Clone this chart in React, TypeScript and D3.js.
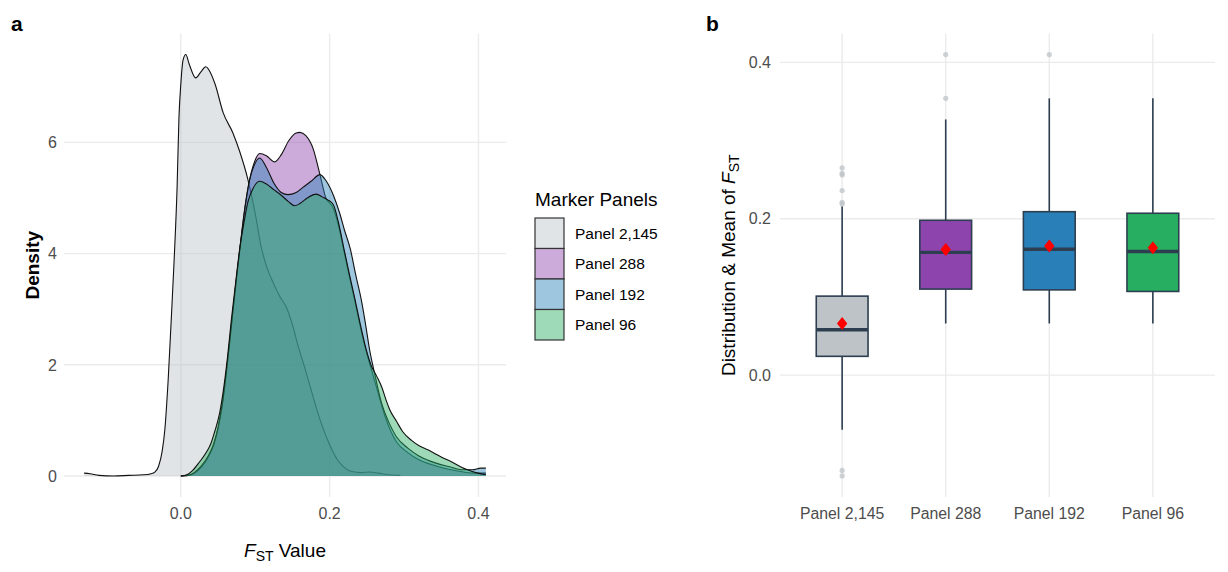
import { area, curveMonotoneX, extent, line, scaleLinear, scalePoint } from "d3";

// Marker panels, in drawing order
const panels = ["Panel 2,145", "Panel 288", "Panel 192", "Panel 96"];
const panelColors = ["#bdc3c7", "#8e44ad", "#2980b9", "#27ae60"];

// Kernel density of F_ST per panel: [F_ST, density]
const densityPanel2145: [number, number][] = [
  [-0.13, 0.05], [-0.122, 0.04], [-0.11, 0.01], [-0.09, 0.0], [-0.07, 0.01], [-0.05, 0.02],
  [-0.04, 0.04], [-0.035, 0.07], [-0.03, 0.17], [-0.025, 0.45], [-0.0215, 0.83], [-0.017, 1.73],
  [-0.013, 2.78], [-0.009, 3.88], [-0.005, 5.2], [-0.0025, 6.45], [0.0, 7.05], [0.003, 7.48],
  [0.0067, 7.58], [0.011, 7.42], [0.02, 7.16], [0.027, 7.27], [0.0336, 7.36], [0.04, 7.25],
  [0.046, 7.05], [0.057, 6.53], [0.07, 6.17], [0.079, 5.84], [0.09, 5.34], [0.1, 4.72],
  [0.108, 4.12], [0.115, 3.78], [0.125, 3.45], [0.133, 3.23], [0.142, 3.03], [0.15, 2.72],
  [0.158, 2.32], [0.166, 1.97], [0.174, 1.6], [0.182, 1.23], [0.19, 0.9], [0.2, 0.56],
  [0.21, 0.3], [0.22, 0.15], [0.23, 0.08], [0.242, 0.06], [0.254, 0.07], [0.265, 0.05],
  [0.28, 0.02], [0.295, 0.01]
];
const densityPanel288: [number, number][] = [
  [0.0, 0.0], [0.01, 0.01], [0.018, 0.05], [0.027, 0.15], [0.036, 0.32], [0.044, 0.55],
  [0.05, 0.85], [0.056, 1.3], [0.062, 1.95], [0.068, 2.7], [0.074, 3.45], [0.08, 4.15],
  [0.086, 4.8], [0.092, 5.3], [0.099, 5.65], [0.106, 5.8], [0.115, 5.76], [0.126, 5.65],
  [0.135, 5.78], [0.145, 6.03], [0.155, 6.17], [0.16, 6.18], [0.168, 6.12], [0.178, 5.88],
  [0.187, 5.42], [0.195, 5.0], [0.204, 4.84], [0.212, 4.5], [0.22, 4.0], [0.227, 3.56],
  [0.234, 3.14], [0.241, 2.7], [0.249, 2.25], [0.256, 1.92], [0.265, 1.5], [0.275, 1.05],
  [0.2895, 0.62], [0.305, 0.42], [0.32, 0.29], [0.343, 0.18], [0.36, 0.12], [0.38, 0.07],
  [0.395, 0.05], [0.41, 0.05]
];
const densityPanel192: [number, number][] = [
  [0.0, 0.0], [0.01, 0.01], [0.018, 0.06], [0.027, 0.17], [0.036, 0.34], [0.044, 0.57],
  [0.05, 0.87], [0.056, 1.32], [0.062, 1.97], [0.068, 2.72], [0.074, 3.47], [0.08, 4.17],
  [0.086, 4.82], [0.092, 5.3], [0.099, 5.6], [0.106, 5.72], [0.115, 5.55], [0.125, 5.27],
  [0.135, 5.1], [0.144, 5.06], [0.155, 5.1], [0.165, 5.2], [0.175, 5.3], [0.187, 5.42],
  [0.1956, 5.3], [0.205, 5.05], [0.2134, 4.73], [0.22, 4.42], [0.228, 4.07], [0.235, 3.62],
  [0.2425, 3.17], [0.248, 2.75], [0.2537, 2.27], [0.26, 1.87], [0.27, 1.3], [0.28, 0.95],
  [0.2895, 0.71], [0.305, 0.5], [0.32, 0.36], [0.343, 0.23], [0.36, 0.17], [0.379, 0.11],
  [0.392, 0.11], [0.403, 0.14], [0.41, 0.14]
];
const densityPanel96: [number, number][] = [
  [0.0, 0.0], [0.008, 0.02], [0.016, 0.1], [0.025, 0.25], [0.033, 0.4], [0.04, 0.57],
  [0.046, 0.82], [0.052, 1.12], [0.058, 1.62], [0.063, 2.17], [0.068, 2.82], [0.074, 3.52],
  [0.079, 4.07], [0.085, 4.57], [0.09, 4.92], [0.097, 5.17], [0.106, 5.3], [0.115, 5.25],
  [0.125, 5.15], [0.135, 5.05], [0.145, 4.93], [0.153, 4.86], [0.16, 4.9], [0.17, 5.0],
  [0.182, 5.07], [0.19, 5.02], [0.197, 4.97], [0.205, 4.88], [0.212, 4.55], [0.219, 4.1],
  [0.227, 3.6], [0.234, 3.18], [0.241, 2.74], [0.249, 2.28], [0.256, 1.98], [0.263, 1.8],
  [0.27, 1.6], [0.276, 1.36], [0.2805, 1.2], [0.29, 0.98], [0.298, 0.8], [0.31, 0.64],
  [0.3208, 0.54], [0.332, 0.47], [0.343, 0.39], [0.3655, 0.24], [0.3835, 0.12], [0.399, 0.05],
  [0.41, 0.02]
];
const densities = [densityPanel2145, densityPanel288, densityPanel192, densityPanel96];

const densityXTicks = [0.0, 0.2, 0.4];
const densityYTicks = [0, 2, 4, 6];

// Boxplot summaries of F_ST per panel
const boxQ1 = [0.024, 0.11, 0.109, 0.107];
const boxMedian = [0.058, 0.157, 0.161, 0.158];
const boxQ3 = [0.101, 0.198, 0.209, 0.207];
const whiskerLow = [-0.07, 0.066, 0.066, 0.066];
const whiskerHigh = [0.216, 0.327, 0.354, 0.354];
const fstMeans = [0.066, 0.1605, 0.165, 0.163];
const boxOutliers = [
  [0.265, 0.258, 0.256, 0.236, 0.221, 0.219, -0.122, -0.129],
  [0.41, 0.354],
  [0.41],
  []
];
const boxYTicks = [0.0, 0.2, 0.4];

const FONT = "'Liberation Sans', Arial, Helvetica, sans-serif";
const GRID = "#ebebeb";
const TICK = "#4d4d4d";
const OUTLINE = "#2c3e50";

function expanded(lo: number, hi: number): [number, number] {
  const pad = (hi - lo) * 0.05;
  return [lo - pad, hi + pad];
}

export default function App() {
  const width = 1228;
  const height = 572;
  const top = 33.5;
  const bottom = 497;

  // panel a: densities
  const allX = densities.flatMap((s) => s.map((p) => p[0]));
  const allY = densities.flatMap((s) => s.map((p) => p[1]));
  const [x0, x1] = extent(allX) as [number, number];
  const x = scaleLinear().domain(expanded(x0, x1)).range([64, 506]);
  const y = scaleLinear().domain(expanded(0, Math.max(...allY))).range([bottom, top]);

  const densityArea = area<[number, number]>()
    .x((d) => x(d[0]))
    .y0(y(0))
    .y1((d) => y(d[1]))
    .curve(curveMonotoneX);
  const densityLine = line<[number, number]>()
    .x((d) => x(d[0]))
    .y((d) => y(d[1]))
    .curve(curveMonotoneX);

  // panel b: boxplots
  const allFst = [...whiskerLow, ...whiskerHigh, ...boxOutliers.flat()];
  const by = scaleLinear()
    .domain(expanded(Math.min(...allFst), Math.max(...allFst)))
    .range([bottom, top]);
  const bx = scalePoint<string>().domain(panels).range([780, 1215]).padding(0.6);
  const boxW = bx.step() * 0.5;

  const legendX = 535;
  const legendY = 218;
  const keyW = 29;
  const keyH = 30.5;

  return (
    <svg
      width={width}
      height={height}
      style={{ position: "absolute", left: 0, top: 0, background: "#fff" }}
      fontFamily={FONT}
    >
      {/* ---------- panel a ---------- */}
      <text x={11} y={31} fontSize={21} fontWeight="bold">a</text>

      {densityYTicks.map((t) => (
        <line key={`gy${t}`} x1={x.range()[0]} x2={x.range()[1]} y1={y(t)} y2={y(t)} stroke={GRID} strokeWidth={1.4} />
      ))}
      {densityXTicks.map((t) => (
        <line key={`gx${t}`} x1={x(t)} x2={x(t)} y1={top} y2={bottom} stroke={GRID} strokeWidth={1.4} />
      ))}

      {densities.map((s, i) => (
        <g key={panels[i]}>
          <path d={densityArea(s) ?? undefined} fill={panelColors[i]} fillOpacity={0.45} />
          <path d={densityLine(s) ?? undefined} fill="none" stroke="#111" strokeWidth={1.1} />
        </g>
      ))}

      {densityYTicks.map((t) => (
        <text key={`ly${t}`} x={57} y={y(t)} dy="0.36em" textAnchor="end" fontSize={16} fill={TICK}>
          {t}
        </text>
      ))}
      {densityXTicks.map((t) => (
        <text key={`lx${t}`} x={x(t)} y={519} textAnchor="middle" fontSize={16} fill={TICK}>
          {t.toFixed(1)}
        </text>
      ))}

      <text x={285} y={557} textAnchor="middle" fontSize={19}>
        <tspan fontStyle="italic">F</tspan>
        <tspan fontSize={14} dy={4}>ST</tspan>
        <tspan dy={-4}> Value</tspan>
      </text>
      <text
        transform={`translate(39,${(top + bottom) / 2}) rotate(-90)`}
        textAnchor="middle"
        fontSize={19}
        fontWeight="bold"
      >
        Density
      </text>

      {/* legend */}
      <text x={legendX} y={206} fontSize={19}>Marker Panels</text>
      {panels.map((p, i) => (
        <g key={`lg${p}`}>
          <rect x={legendX} y={legendY + i * keyH} width={keyW} height={keyH} fill="#fff" />
          <rect
            x={legendX}
            y={legendY + i * keyH}
            width={keyW}
            height={keyH}
            fill={panelColors[i]}
            fillOpacity={0.45}
            stroke="#333"
            strokeWidth={1.2}
          />
          <text x={legendX + 40} y={legendY + i * keyH + keyH / 2} dy="0.36em" fontSize={15.5}>
            {p}
          </text>
        </g>
      ))}

      {/* ---------- panel b ---------- */}
      <text x={706} y={31} fontSize={21} fontWeight="bold">b</text>

      {boxYTicks.map((t) => (
        <line key={`bgy${t}`} x1={780} x2={1215} y1={by(t)} y2={by(t)} stroke={GRID} strokeWidth={1.4} />
      ))}
      {panels.map((p) => (
        <line key={`bgx${p}`} x1={bx(p)} x2={bx(p)} y1={top} y2={bottom} stroke={GRID} strokeWidth={1.4} />
      ))}

      {panels.map((p, i) => {
        const cx = bx(p) ?? 0;
        return (
          <g key={`box${p}`}>
            <line x1={cx} x2={cx} y1={by(whiskerHigh[i])} y2={by(boxQ3[i])} stroke={OUTLINE} strokeWidth={1.6} />
            <line x1={cx} x2={cx} y1={by(boxQ1[i])} y2={by(whiskerLow[i])} stroke={OUTLINE} strokeWidth={1.6} />
            <rect
              x={cx - boxW / 2}
              y={by(boxQ3[i])}
              width={boxW}
              height={by(boxQ1[i]) - by(boxQ3[i])}
              fill={panelColors[i]}
              stroke={OUTLINE}
              strokeWidth={1.6}
            />
            <line
              x1={cx - boxW / 2}
              x2={cx + boxW / 2}
              y1={by(boxMedian[i])}
              y2={by(boxMedian[i])}
              stroke={OUTLINE}
              strokeWidth={3.4}
            />
            {boxOutliers[i].map((o, j) => (
              <circle key={j} cx={cx} cy={by(o)} r={2.6} fill="#bdc3c7" fillOpacity={0.75} />
            ))}
            <path
              transform={`translate(${cx},${by(fstMeans[i])})`}
              d="M0,-6.5L5.2,0L0,6.5L-5.2,0Z"
              fill="#ff0000"
            />
          </g>
        );
      })}

      {boxYTicks.map((t) => (
        <text key={`bly${t}`} x={771} y={by(t)} dy="0.36em" textAnchor="end" fontSize={16} fill={TICK}>
          {t.toFixed(1)}
        </text>
      ))}
      {panels.map((p) => (
        <text key={`blx${p}`} x={bx(p)} y={519} textAnchor="middle" fontSize={15.8} fill={TICK}>
          {p}
        </text>
      ))}

      <text
        transform={`translate(735,${(top + bottom) / 2}) rotate(-90)`}
        textAnchor="middle"
        fontSize={19}
      >
        Distribution &amp; Mean of <tspan fontStyle="italic">F</tspan>
        <tspan fontSize={14} dy={4}>ST</tspan>
      </text>
    </svg>
  );
}
